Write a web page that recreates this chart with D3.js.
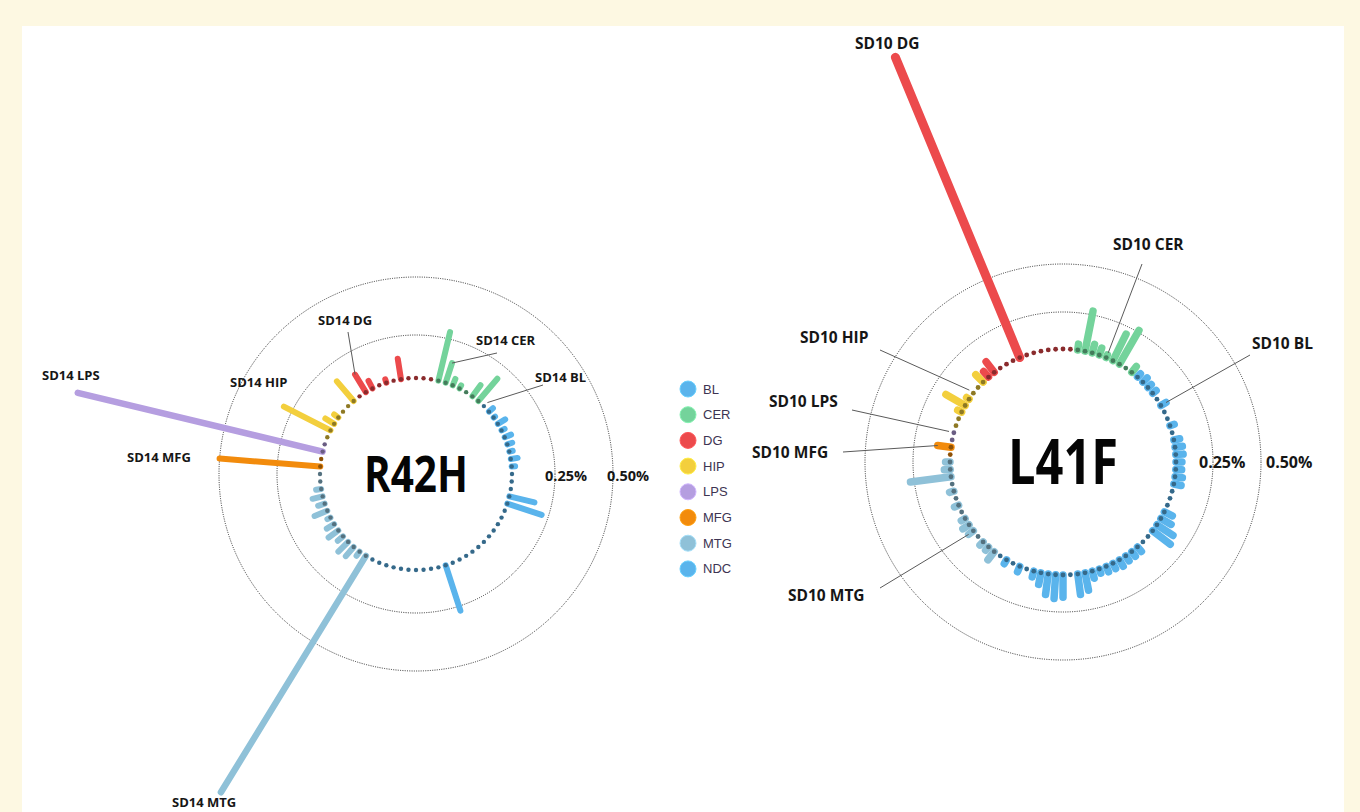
<!DOCTYPE html>
<html>
<head>
<meta charset="utf-8">
<script src="https://d3js.org/d3.v7.min.js"></script>
<style>
body { margin: 0; background: #fdf8e2; }
svg { display: block; }
.lbl { font-family: "Open Sans", Lato, sans-serif; font-weight: 700; fill: #161616; }
.big { font-family: "Open Sans", Lato, sans-serif; font-weight: 700; fill: #050505; }
.leg { font-family: "Liberation Sans", Arial, sans-serif; font-size: 13px; fill: #3d3452; }
</style>
</head>
<body>
<svg id="chart" width="1360" height="812"></svg>
<script>
// legend categories and colours
var categories = ["BL", "CER", "DG", "HIP", "LPS", "MFG", "MTG", "NDC"];
var catColors = ["#5ab4ec", "#74d39b", "#ec4a4c", "#f3cf3d", "#b59ee0", "#f28b0c", "#8fc1d8", "#5ab4ec"];
// order of the groups round the ring, clockwise
var ringOrder = ["CER", "BL", "NDC", "MTG", "MFG", "LPS", "HIP", "DG"];
var tickValues = [0.25, 0.5];
var tickLabels = ["0.25%", "0.50%"];

// R42H (SD14) values, % per sample
var r42hCER = [0.28, 0.12, 0.04, 0.02, 0, 0.08, 0.17];
var r42hBL = [0, 0.03, 0.01, 0.05, 0.02, 0.04];
var r42hNDC = [0.03, 0.02, 0.04, 0.02, 0, 0, 0, 0.15, 0.21, 0, 0, 0, 0, 0, 0, 0,
  0, 0, 0, 0, 0.27, 0, 0, 0, 0, 0, 0, 0, 0, 0, 0];
var r42hMTG = [1.26, 0.03, 0.07, 0.08, 0.04, 0.07, 0.05, 0.02, 0.08, 0.04, 0.06, 0.03, 0, 0];
var r42hMFG = [0.5, 0];
var r42hLPS = [1.15, 0];
var r42hHIP = [0, 0.29, 0.06, 0.03, 0, 0, 0.15];
var r42hDG = [0, 0.12, 0.05, 0, 0.02, 0, 0.12, 0, 0, 0, 0];

// L41F (SD10) values
var l41fCER = [0.04, 0.27, 0.06, 0.05, 0.02, 0.2, 0.26, 0, 0.05];
var l41fBL = [0.03, 0.04, 0.03, 0.03, 0, 0.04];
var l41fNDC = [0, 0, 0.03, 0, 0.04, 0.05, 0.05, 0.04, 0.04, 0.05, 0.05, 0, 0, 0, 0.06,
  0.08, 0.13, 0.15, 0, 0, 0.04, 0.04, 0.04, 0.05, 0.04, 0.04, 0.03, 0.05, 0.12, 0.14,
  0, 0.15, 0.16, 0.14, 0.08, 0.04, 0, 0.04, 0, 0.03, 0];
var l41fMTG = [0.07, 0.03, 0.03, 0, 0.04, 0.05, 0.03, 0, 0.03, 0, 0.03, 0, 0.27, 0.04, 0.03];
var l41fMFG = [0, 0.09];
var l41fLPS = [0, 0];
var l41fHIP = [0, 0, 0.03, 0.15, 0.02, 0, 0, 0.07];
var l41fDG = [0.05, 0.09, 0, 0, 0, 1.75, 0, 0, 0, 0, 0, 0, 0];

var color = d3.scaleOrdinal().domain(categories).range(catColors);

var svg = d3.select("#chart");

// white panel on the cream page
svg.append("rect").attr("x", 22).attr("y", 26).attr("width", 1322).attr("height", 800).attr("fill", "#fff");

function buildRing(groups) {
  var items = [];
  ringOrder.forEach(function(cat) {
    groups[cat].forEach(function(v, k) {
      items.push({cat: cat, k: k, value: v});
    });
  });
  return items;
}

function drawRing(cfg) {
  var items = buildRing(cfg.groups);
  var g = svg.append("g").attr("transform", "translate(" + cfg.cx + "," + cfg.cy + ")");
  var startRad = cfg.start * Math.PI / 180;
  var angle = d3.scaleLinear().domain([0, items.length]).range([startRad, startRad + 2 * Math.PI]);
  var r = d3.scaleLinear().domain([0, 0.25, 0.5]).range(cfg.radii);

  // dotted reference circles
  g.selectAll("circle.grid").data(tickValues).enter().append("circle")
    .attr("class", "grid")
    .attr("r", function(d) { return r(d); })
    .attr("fill", "none")
    .attr("stroke", "#2e2e2e")
    .attr("stroke-width", 1)
    .attr("stroke-dasharray", "1,1.3");

  items.forEach(function(d, i) { d.a = angle(i); });

  // bars
  g.selectAll("line.bar").data(items.filter(function(d) { return d.value > 0; })).enter().append("line")
    .attr("class", "bar")
    .attr("x1", function(d) { return d3.pointRadial(d.a, r(0))[0]; })
    .attr("y1", function(d) { return d3.pointRadial(d.a, r(0))[1]; })
    .attr("x2", function(d) { return d3.pointRadial(d.a, r(d.value))[0]; })
    .attr("y2", function(d) { return d3.pointRadial(d.a, r(d.value))[1]; })
    .attr("stroke", function(d) { return color(d.cat); })
    .attr("stroke-width", function(d) { return d.value > 0.6 ? cfg.longWidth : cfg.barWidth; })
    .attr("stroke-linecap", "round");

  // base dots
  g.selectAll("circle.dot").data(items).enter().append("circle")
    .attr("class", "dot")
    .attr("cx", function(d) { return d3.pointRadial(d.a, r(0))[0]; })
    .attr("cy", function(d) { return d3.pointRadial(d.a, r(0))[1]; })
    .attr("r", cfg.dotR)
    .attr("fill", function(d) { return d3.color(color(d.cat)).darker(1.5); });

  // leader lines to the labelled samples
  cfg.notes.forEach(function(n) {
    var d = items.find(function(it) { return it.cat === n.cat && it.k === n.k; });
    if (n.from) {
      var p = d3.pointRadial(d.a, Math.max(r(d.value), r(0) + 5));
      g.append("line")
        .attr("x1", n.from[0] - cfg.cx).attr("y1", n.from[1] - cfg.cy)
        .attr("x2", p[0]).attr("y2", p[1])
        .attr("stroke", "#5a5a5a").attr("stroke-width", 1);
    }
    svg.append("text").attr("class", "lbl")
      .attr("x", n.x).attr("y", n.y)
      .style("font-size", cfg.labelSize + "px")
      .text(n.text);
  });

  // tick labels
  tickLabels.forEach(function(t, i) {
    svg.append("text").attr("class", "lbl")
      .attr("x", cfg.tickX[i]).attr("y", cfg.cy + cfg.tickDy)
      .style("font-size", cfg.tickSize + "px")
      .text(t);
  });

  // centre name
  svg.append("text").attr("class", "big")
    .attr("x", cfg.cx).attr("y", cfg.cy + cfg.nameSize * 0.36)
    .attr("text-anchor", "middle")
    .attr("textLength", cfg.nameWidth)
    .attr("lengthAdjust", "spacingAndGlyphs")
    .style("font-size", cfg.nameSize + "px")
    .text(cfg.name);
}

drawRing({
  name: "R42H", cx: 416, cy: 474, start: 13.5, radii: [96, 139, 197],
  barWidth: 6, longWidth: 6.5, dotR: 2.2, nameSize: 50, nameWidth: 104, labelSize: 13,
  tickX: [545, 607], tickDy: 7, tickSize: 14.5,
  groups: {CER: r42hCER, BL: r42hBL, NDC: r42hNDC, MTG: r42hMTG, MFG: r42hMFG, LPS: r42hLPS, HIP: r42hHIP, DG: r42hDG},
  notes: [
    {cat: "DG", k: 1, text: "SD14 DG", x: 318, y: 325, from: [348, 332]},
    {cat: "CER", k: 1, text: "SD14 CER", x: 476, y: 345, from: [497, 353]},
    {cat: "BL", k: 0, text: "SD14 BL", x: 535, y: 382, from: [543, 385]},
    {cat: "HIP", k: 1, text: "SD14 HIP", x: 230, y: 387},
    {cat: "LPS", k: 0, text: "SD14 LPS", x: 42, y: 380},
    {cat: "MFG", k: 0, text: "SD14 MFG", x: 127, y: 462},
    {cat: "MTG", k: 0, text: "SD14 MTG", x: 172, y: 807}
  ]
});

drawRing({
  name: "L41F", cx: 1063, cy: 462, start: 7.5, radii: [113, 150, 198],
  barWidth: 7.5, longWidth: 9, dotR: 2.4, nameSize: 62, nameWidth: 110, labelSize: 15.5,
  tickX: [1199, 1266], tickDy: 6, tickSize: 16,
  groups: {CER: l41fCER, BL: l41fBL, NDC: l41fNDC, MTG: l41fMTG, MFG: l41fMFG, LPS: l41fLPS, HIP: l41fHIP, DG: l41fDG},
  notes: [
    {cat: "DG", k: 5, text: "SD10 DG", x: 855, y: 49},
    {cat: "CER", k: 4, text: "SD10 CER", x: 1113, y: 250, from: [1142, 264]},
    {cat: "BL", k: 5, text: "SD10 BL", x: 1252, y: 349, from: [1250, 355]},
    {cat: "HIP", k: 5, text: "SD10 HIP", x: 800, y: 343, from: [880, 350]},
    {cat: "LPS", k: 1, text: "SD10 LPS", x: 769, y: 407, from: [852, 410]},
    {cat: "MFG", k: 1, text: "SD10 MFG", x: 752, y: 458, from: [843, 452]},
    {cat: "MTG", k: 4, text: "SD10 MTG", x: 788, y: 601, from: [880, 588]}
  ]
});

// legend
var legend = svg.append("g").selectAll("g").data(categories).enter().append("g")
  .attr("transform", function(d, i) { return "translate(688," + (389 + i * 25.7) + ")"; });
legend.append("circle").attr("r", 8).attr("fill", function(d) { return color(d); })
  .attr("stroke", function(d) { return d3.color(color(d)).brighter(0.4); }).attr("stroke-width", 1);
legend.append("text").attr("class", "leg").attr("x", 15).attr("y", 4.5).text(function(d) { return d; });
</script>
</body>
</html>
